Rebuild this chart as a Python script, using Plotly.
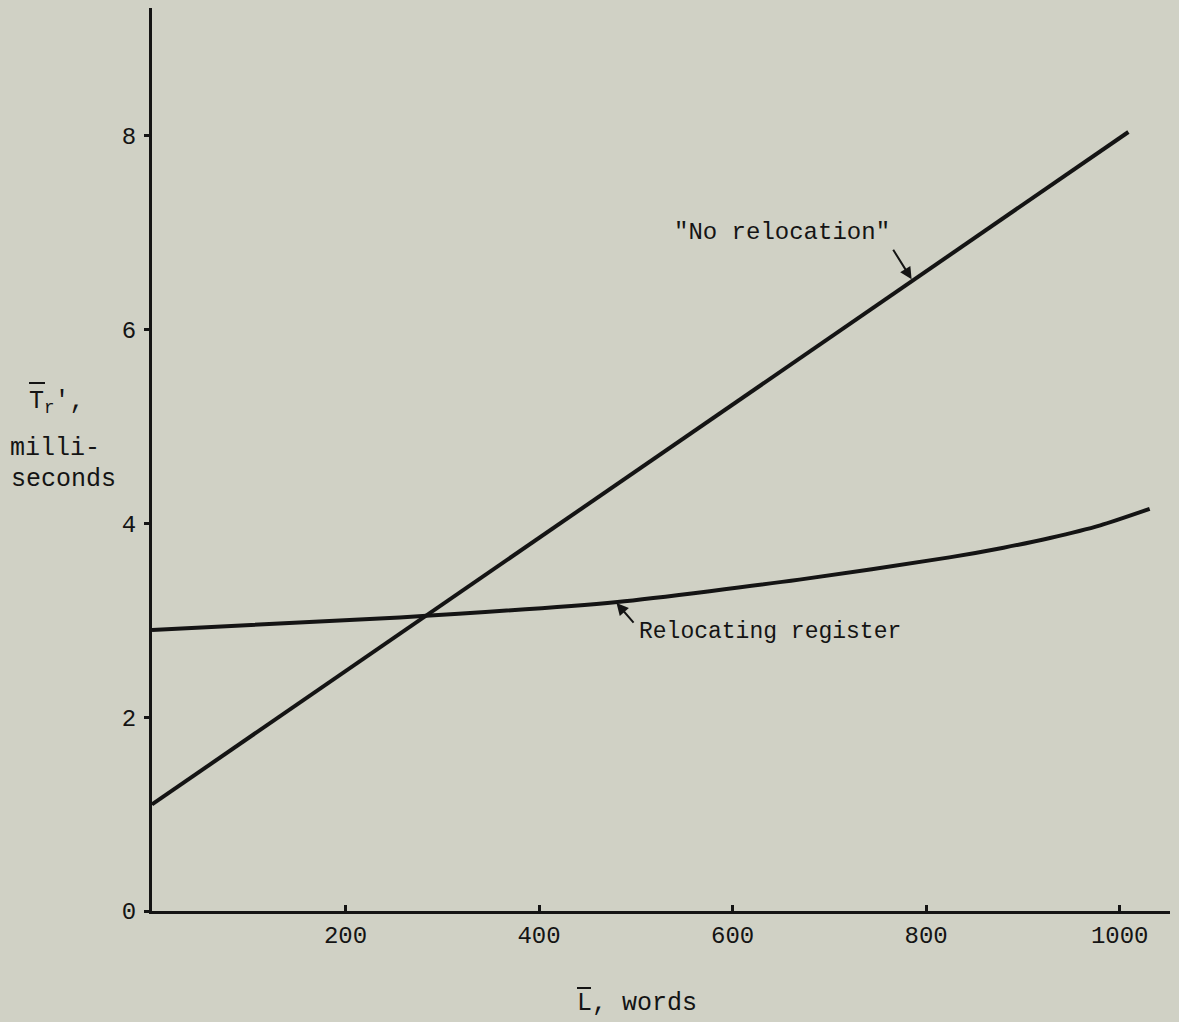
import plotly.graph_objects as go

# Data
reloc_L = [0, 256, 481, 669, 824, 880, 928, 980, 1031]
reloc_T = [2.90, 3.03, 3.19, 3.42, 3.65, 3.75, 3.85, 3.98, 4.15]

norel_L = [0, 1009]
norel_T = [1.10, 8.04]

x_ticks = [200, 400, 600, 800, 1000]
x_tick_labels = ["200", "400", "600", "800", "1000"]
y_ticks = [0, 2, 4, 6, 8]
y_tick_labels = ["0", "2", "4", "6", "8"]

W, H = 1179, 1022
ML, MR, MT, MB = 152, 9, 8, 111
PW = W - ML - MR
PH = H - MT - MB

def px(x):
    return (x - ML) / PW

def py(y):
    return (H - MB - y) / PH

BG = "#d0d1c5"
INK = "#141414"
FONT = "Liberation Mono"

fig = go.Figure()
fig.add_trace(go.Scatter(x=reloc_L, y=reloc_T, mode="lines",
                         line=dict(color=INK, width=4, shape="spline", smoothing=0.6),
                         hoverinfo="skip", showlegend=False))
fig.add_trace(go.Scatter(x=norel_L, y=norel_T, mode="lines",
                         line=dict(color=INK, width=4),
                         hoverinfo="skip", showlegend=False))

fig.update_layout(
    width=W, height=H,
    margin=dict(l=ML, r=MR, t=MT, b=MB, pad=0),
    paper_bgcolor=BG, plot_bgcolor=BG,
    font=dict(family=FONT, color=INK, size=24),
    xaxis=dict(range=[0, 1052], tickvals=x_ticks, ticktext=x_tick_labels,
               ticks="inside", ticklen=6, tickwidth=3, tickcolor=INK,
               showline=True, linewidth=3, linecolor=INK,
               showgrid=False, zeroline=False, tickfont=dict(size=24)),
    yaxis=dict(range=[0, 9.32], tickvals=y_ticks, ticktext=y_tick_labels,
               ticks="outside", ticklen=5, tickwidth=3, tickcolor=INK,
               showline=True, linewidth=3, linecolor=INK,
               showgrid=False, zeroline=False, tickfont=dict(size=24),
               ticklabelstandoff=3),
)

annos = [
    dict(text='"No relocation"', x=651, y=7.0, xref="x", yref="y",
         xanchor="center", yanchor="middle", showarrow=False, font=dict(size=24)),
    dict(text="Relocating register", x=501, y=2.88, xref="x", yref="y",
         xanchor="left", yanchor="middle", showarrow=False, font=dict(size=23)),
    dict(text="", x=785, y=6.52, ax=765, ay=6.84, xref="x", yref="y",
         axref="x", ayref="y", showarrow=True, arrowhead=2, arrowsize=1.2,
         arrowwidth=2, arrowcolor=INK),
    dict(text="", x=480, y=3.18, ax=499, ay=2.96, xref="x", yref="y",
         axref="x", ayref="y", showarrow=True, arrowhead=2, arrowsize=1.2,
         arrowwidth=2, arrowcolor=INK),
    dict(text="T<sub>r</sub>',", x=px(27), y=py(402), xref="paper", yref="paper",
         xanchor="left", yanchor="middle", showarrow=False, font=dict(size=25)),
    dict(text="milli-", x=px(8), y=py(448), xref="paper", yref="paper",
         xanchor="left", yanchor="middle", showarrow=False, font=dict(size=25)),
    dict(text="seconds", x=px(9), y=py(479), xref="paper", yref="paper",
         xanchor="left", yanchor="middle", showarrow=False, font=dict(size=25)),
    dict(text="L, words", x=px(575), y=py(1004), xref="paper", yref="paper",
         xanchor="left", yanchor="middle", showarrow=False, font=dict(size=25)),
]
fig.update_layout(annotations=annos)

fig.add_shape(type="line", xref="paper", yref="paper",
              x0=px(29), x1=px(45), y0=py(383), y1=py(383),
              line=dict(color=INK, width=2))
fig.add_shape(type="line", xref="paper", yref="paper",
              x0=px(577), x1=px(591), y0=py(988), y1=py(988),
              line=dict(color=INK, width=2))

fig.write_html(
    "out.html",
    config={"displayModeBar": False},
    post_script="document.body.style.margin='0';document.body.style.background='" + BG + "';",
)
